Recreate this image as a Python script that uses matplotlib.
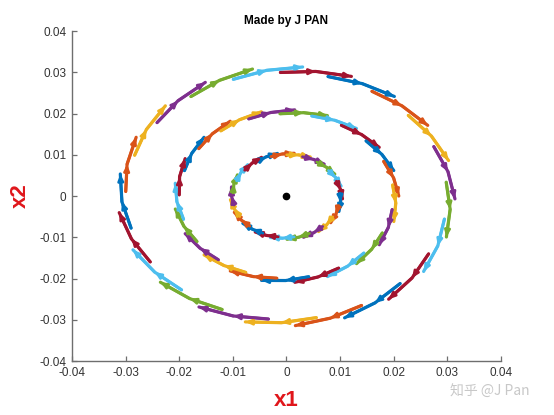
import numpy as np
import matplotlib.pyplot as plt

# phase portrait of x1' = x2, x2' = -x1, short Euler runs started on three circles
radii = [0.01, 0.02, 0.03]
first_angle_deg = [124, 162, 195]   # where the first (blue) run starts on each circle
n_starts = 21
step_h = 0.22
n_steps = 2

tick_vals = [-0.04, -0.03, -0.02, -0.01, 0, 0.01, 0.02, 0.03, 0.04]
tick_labels = ['-0.04', '-0.03', '-0.02', '-0.01', '0', '0.01', '0.02', '0.03', '0.04']

# MATLAB default colour order
colors = ['#0072BD', '#D95319', '#EDB120', '#7E2F8E', '#77AC30', '#4DBEEE', '#A2142F']

plt.rcParams['font.family'] = ['Liberation Sans', 'DejaVu Sans']

fig = plt.figure(figsize=(5.54, 4.15), dpi=100)
ax = fig.add_axes([0.130, 0.130, 0.774, 0.795])

for r, a0 in zip(radii, first_angle_deg):
    for k in range(n_starts):
        th = np.deg2rad(a0 - k * 360.0 / n_starts)
        p = np.array([r * np.cos(th), r * np.sin(th)])
        c = colors[k % len(colors)]
        pts = [p]
        for s in range(n_steps):
            q = p + step_h * np.array([p[1], -p[0]])
            # arrowhead on each step
            ax.annotate('', xy=(q[0], q[1]), xytext=(p[0], p[1]),
                        arrowprops=dict(arrowstyle='-|>,head_length=0.5,head_width=0.22',
                                        color=c, lw=2.0,
                                        mutation_scale=7, shrinkA=0, shrinkB=0))
            p = q
            pts.append(p)
        pts = np.array(pts)
        ax.plot(pts[:, 0], pts[:, 1], color=c, lw=2.3, solid_capstyle='round')

ax.plot([0], [0], 'o', color='black', markersize=4.5)

ax.set_xlim(-0.04, 0.04)
ax.set_ylim(-0.04, 0.04)
ax.set_xticks(tick_vals)
ax.set_xticklabels(tick_labels)
ax.set_yticks(tick_vals)
ax.set_yticklabels(tick_labels)

for side in ['top', 'right']:
    ax.spines[side].set_visible(False)
for side in ['left', 'bottom']:
    ax.spines[side].set_color('#6e6e6e')
    ax.spines[side].set_linewidth(1.0)
ax.tick_params(direction='in', length=3.5, width=0.9, color='#6e6e6e',
               labelsize=8.5, labelcolor='#333333', pad=4)

ax.set_title('Made by J PAN', fontsize=8.5, fontweight='bold', pad=5)
ax.set_xlabel('x1', fontsize=16, fontweight='bold', color='#e0161b', labelpad=8)
ax.set_ylabel('x2', fontsize=16, fontweight='bold', color='#e0161b', labelpad=6)

fig.text(0.885, 0.055, '知乎 @J Pan', fontsize=10, color='#c8c8c8',
         ha='center', va='center', family=['Noto Sans CJK SC', 'DejaVu Sans'])

fig.savefig('out.png', dpi=100)
